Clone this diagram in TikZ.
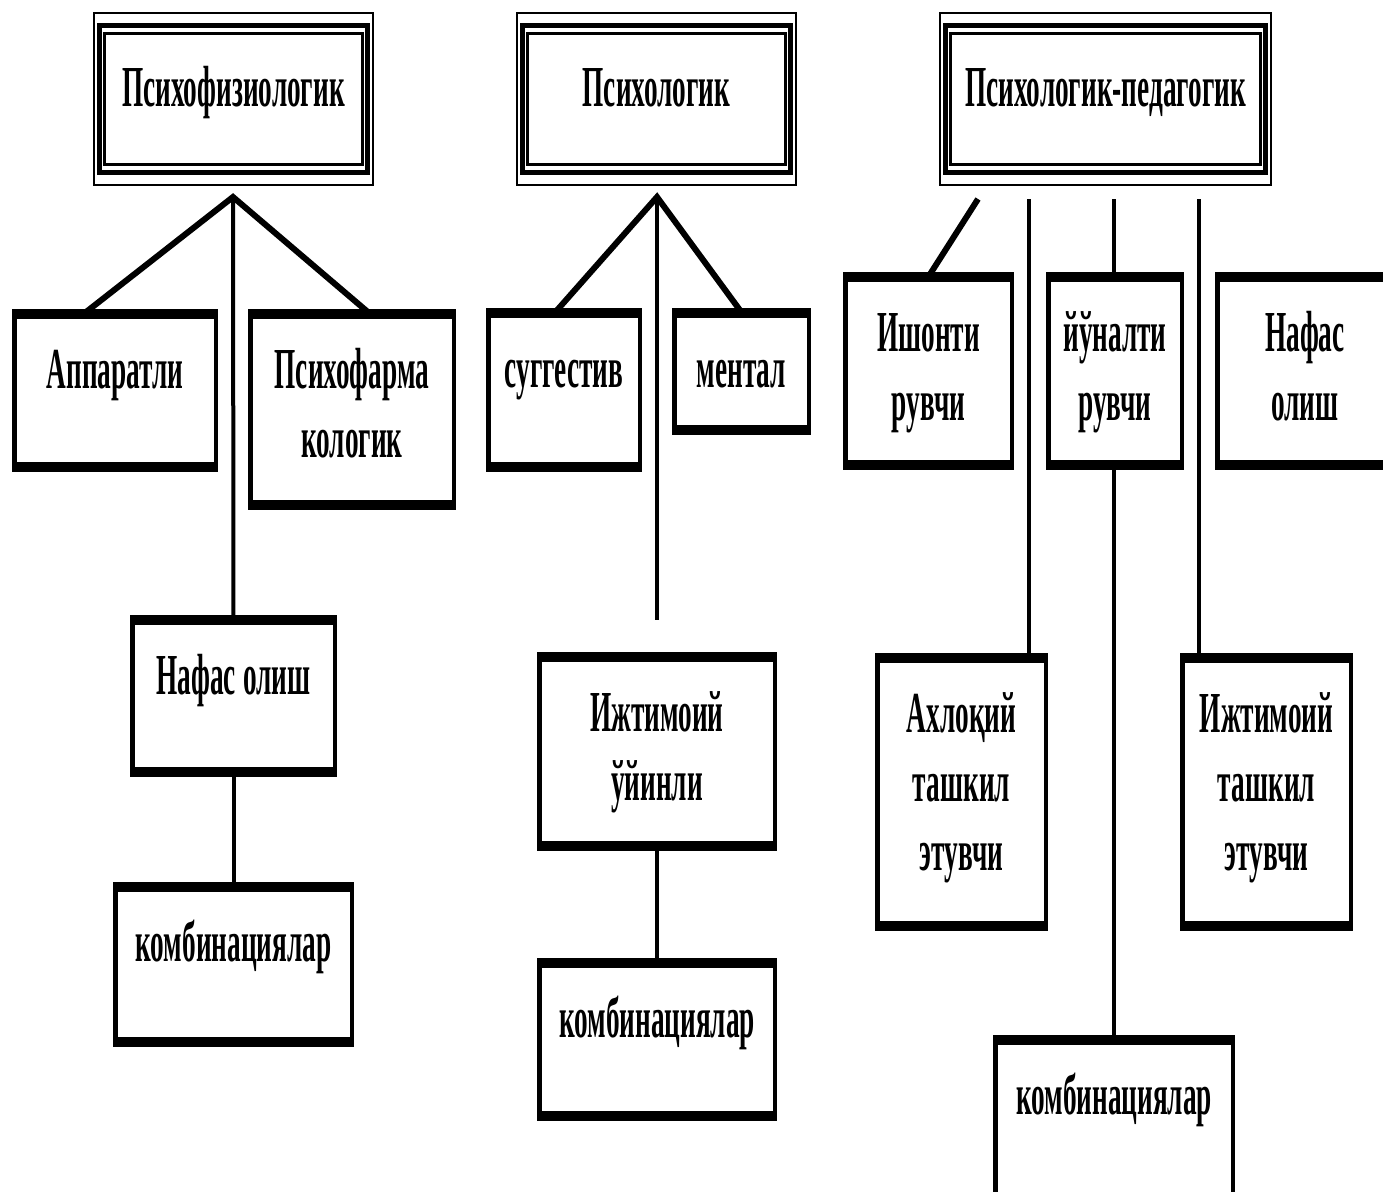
\documentclass[tikz,border=0pt]{standalone}
\usepackage{fontspec}
\newfontfamily\diagfont{Liberation Serif}[FakeStretch=0.47]
\usetikzlibrary{calc}

% plain category box: name, x1, y1, x2, y2 (outer edges), text
\newcommand\catnode[6]{%
  \node[catbox, minimum width={(#4-#2-4.5)*0.5pt}, minimum height={(#5-#3-4.5)*0.5pt}]
    (#1) at ({(#2+#4)/2},{(#3+#5)/2}) {};
  \node[lbl] (#1-text) at ([yshift=-38.4pt]#1.north) {#6};
}
% heading box with triple frame
\newcommand\headnode[6]{%
  \node[headbox, minimum width={(#4-#2-2)*0.5pt}, minimum height={(#5-#3-2)*0.5pt}]
    (#1) at ({(#2+#4)/2},{(#3+#5)/2}) {};
  \node[lbl] (#1-text) at ([yshift=-3.5pt]#1.center) {#6};
}
% narrow word gap of the condensed face
\newcommand\wgap{\hspace{3.5pt}}

\begin{document}
\begin{tikzpicture}[x=0.5pt,y=-0.5pt,
  every node/.style={inner sep=0pt,outer sep=0pt},
  catbox/.style={draw,line width=2.25pt,fill=white,
    path picture={
      \fill[black] (path picture bounding box.north west) rectangle ([yshift=-3.9pt]path picture bounding box.north east);
      \fill[black] ([yshift=3.9pt]path picture bounding box.south west) rectangle (path picture bounding box.south east);}},
  headbox/.style={draw,line width=1pt,fill=white,
    path picture={
      \draw[line width=2.75pt] ([xshift=2.75pt,yshift=-6.25pt]path picture bounding box.north west)
        rectangle ([xshift=-2.75pt,yshift=6.25pt]path picture bounding box.south east);
      \draw[line width=1.25pt] ([xshift=5.25pt,yshift=-10.25pt]path picture bounding box.north west)
        rectangle ([xshift=-5.25pt,yshift=10.25pt]path picture bounding box.south east);}},
  lbl/.style={font=\diagfont\bfseries\fontsize{29}{34.5}\selectfont, text width=200pt, align=center, anchor=base},
  branch/.style={line width=3pt, line join=miter},
  stem/.style={line width=2pt},
]
\useasboundingbox (0,0) rectangle (1383,1191);
\fill[white] (0,0) rectangle (1383,1191);
\clip (0,0) rectangle (1383,1191);

% headings
\headnode{hf}{93}{12}{374}{186}{Психофизиологик}
\headnode{hp}{516}{12}{797}{186}{Психологик}
\headnode{hpp}{939}{12}{1272}{186}{Психологик-педагогик}

% first column
\catnode{ap}{12}{309}{218}{472}{Аппаратли}
\catnode{pf}{248}{309}{456}{510}{Психофарма\\кологик}
\catnode{nfa}{130}{615}{337}{777}{Нафас\wgap олиш}
\catnode{kba}{113}{882}{354}{1047}{комбинациялар}

% second column
\catnode{sg}{486}{308}{642}{472}{суггестив}
\catnode{mt}{672}{308}{811}{435}{ментал}
\catnode{ij}{537}{652}{777}{851}{Ижтимоий\\ўйинли}
\catnode{kbb}{537}{958}{777}{1121}{комбинациялар}

% third column
\catnode{ish}{843}{272}{1014}{470}{Ишонти\\рувчи}
\catnode{yn}{1046}{272}{1184}{470}{йўналти\\рувчи}
\catnode{nfc}{1215}{272}{1395}{470}{Нафас\\олиш}
\catnode{ax}{875}{653}{1048}{931}{Ахлоқий\\ташкил\\этувчи}
\catnode{it}{1180}{653}{1353}{931}{Ижтимоий\\ташкил\\этувчи}
\catnode{kbc}{993}{1035}{1235}{1205}{комбинациялар}

% connectors of the first column
\coordinate (fa) at (233,197);
\draw[branch] (87,0 |- ap.north) -- (fa) -- (367,0 |- pf.north);
\draw[stem] (fa) -- (nfa.north);
\draw[stem] (nfa.south) -- (kba.north);

% connectors of the second column
\coordinate (fb) at (657,197);
\coordinate (fbend) at (657,620);
\draw[branch] (557,0 |- sg.north) -- (fb) -- (740,0 |- mt.north);
\draw[stem] (fb) -- (fbend);
\draw[stem] (ij.south) -- (kbb.north);

% connectors of the third column
\coordinate (c1) at (978,199);
\coordinate (c2) at (1029,199);
\coordinate (c3) at (1114,199);
\coordinate (c4) at (1199,199);
\draw[branch] (c1) -- (930,0 |- ish.north);
\draw[stem] (c2) -- (c2 |- ax.north);
\draw[stem] (c3) -- (c3 |- yn.north);
\draw[stem] (c3 |- yn.south) -- (c3 |- kbc.north);
\draw[stem] (c4) -- (c4 |- it.north);
\end{tikzpicture}
\end{document}
